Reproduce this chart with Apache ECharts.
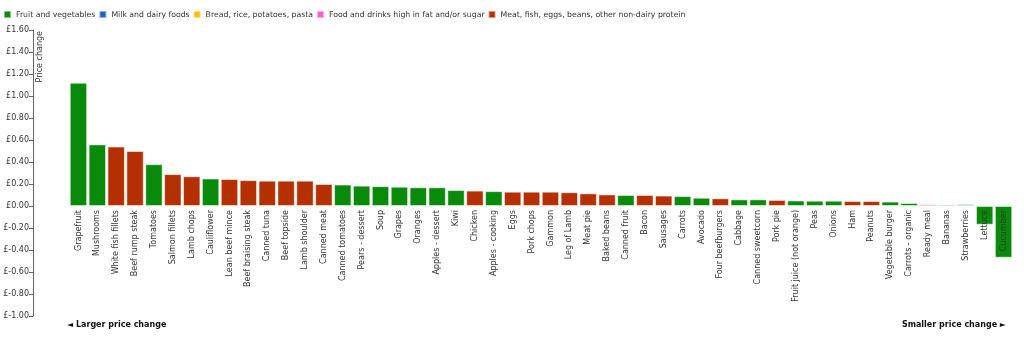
<!DOCTYPE html>
<html>
<head>
<meta charset="utf-8">
<script src="https://cdn.jsdelivr.net/npm/echarts@6/dist/echarts.min.js"></script>
<style>
html,body{margin:0;padding:0;background:#fff;}
#chart{width:1024px;height:340px;}
</style>
</head>
<body>
<div id="chart"></div>
<script>
var categories = ["Grapefruit","Mushrooms","White fish fillets","Beef rump steak","Tomatoes","Salmon fillets","Lamb chops","Cauliflower","Lean beef mince","Beef braising steak","Canned tuna","Beef topside","Lamb shoulder","Canned meat","Canned tomatoes","Pears - dessert","Soup","Grapes","Oranges","Apples - dessert","Kiwi","Chicken","Apples - cooking","Eggs","Pork chops","Gammon","Leg of Lamb","Meat pie","Baked beans","Canned fruit","Bacon","Sausages","Carrots","Avocado","Four beefburgers","Cabbage","Canned sweetcorn","Pork pie","Fruit juice (not orange)","Peas","Onions","Ham","Peanuts","Vegetable burger","Carrots - organic","Ready meal","Bananas","Strawberries","Lettuce","Cucumber"];
var values = [1.12,0.56,0.54,0.50,0.38,0.29,0.27,0.25,0.245,0.235,0.23,0.23,0.23,0.20,0.195,0.185,0.18,0.175,0.17,0.17,0.145,0.14,0.135,0.13,0.13,0.13,0.125,0.115,0.105,0.10,0.10,0.095,0.09,0.075,0.07,0.06,0.06,0.055,0.05,0.048,0.048,0.045,0.045,0.04,0.027,0.015,0.014,0.016,-0.17,-0.47];
// group index per category: 0 fruit/veg, 4 meat/protein
var groups = [0,0,4,4,0,4,4,0,4,4,4,4,4,4,0,0,0,0,0,0,0,4,0,4,4,4,4,4,4,0,4,4,0,0,4,0,0,4,0,0,0,4,4,0,0,4,0,0,0,0];
var groupNames = ["Fruit and vegetables","Milk and dairy foods","Bread, rice, potatoes, pasta","Food and drinks high in fat and/or sugar","Meat, fish, eggs, beans, other non-dairy protein"];
var groupColors = ["#0a8a0a","#1f64c8","#ffbf00","#ff5fcf","#b53000"];
var yTicks = {min:-1.0, max:1.6, interval:0.2};

var FONT = "DejaVu Sans";
var GRID_TOP = 30, GRID_BOTTOM = 24, H = 340;
var gridH = H - GRID_TOP - GRID_BOTTOM;
// distance from the grid bottom up to the zero line
var zeroOffset = gridH * (0 - yTicks.min) / (yTicks.max - yTicks.min);

var series = groupNames.map(function(name, gi){
  return {
    name: name,
    type: 'bar',
    stack: 'all',
    barWidth: '92%',
    z: 2,
    itemStyle: {color: groupColors[gi], borderColor: 'rgba(255,255,255,0.5)', borderWidth: 1},
    data: values.map(function(v, i){ return groups[i] === gi ? v : '-'; })
  };
});

var chart = echarts.init(document.getElementById('chart'), null, {renderer:'canvas'});
chart.setOption({
  animation: false,
  legend: {
    left: 3, top: 10, padding: 0,
    itemWidth: 7, itemHeight: 7, itemGap: 3,
    icon: 'rect',
    textStyle: {fontFamily: FONT, fontSize: 7.75, color: '#333'},
    data: groupNames
  },
  grid: {left: 69, right: 11, top: GRID_TOP, bottom: GRID_BOTTOM, containLabel: false, outerBoundsMode: 'none'},
  xAxis: {
    type: 'category',
    data: categories,
    position: 'bottom',
    offset: -zeroOffset,
    z: 10,
    axisLine: {show: false, onZero: false},
    axisTick: {show: false},
    axisLabel: {rotate: 90, fontFamily: FONT, fontSize: 8, color: '#333', margin: 4, interval: 0, hideOverlap: false}
  },
  yAxis: {
    type: 'value',
    min: yTicks.min, max: yTicks.max, interval: yTicks.interval,
    offset: 36,
    splitLine: {show: false},
    axisLine: {show: true, onZero: false, lineStyle: {color: '#666'}},
    axisTick: {show: true, length: 4, lineStyle: {color: '#666'}},
    axisLabel: {fontFamily: FONT, fontSize: 8, color: '#333', margin: 4,
      formatter: function(v){ return '£' + v.toFixed(2); }}
  },
  graphic: [
    {type: 'text', x: 40, y: 31, rotation: Math.PI/2,
     style: {text: 'Price change', font: '8px "DejaVu Sans"', fill: '#333', align: 'right', verticalAlign: 'middle'}},
    {type: 'text', x: 67, y: 325,
     style: {text: '◄ Larger price change', font: 'bold 8px "DejaVu Sans"', fill: '#111', align: 'left', verticalAlign: 'middle'}},
    {type: 'text', x: 1006, y: 325,
     style: {text: 'Smaller price change ►', font: 'bold 8px "DejaVu Sans"', fill: '#111', align: 'right', verticalAlign: 'middle'}}
  ],
  series: series
});
</script>
</body>
</html>
